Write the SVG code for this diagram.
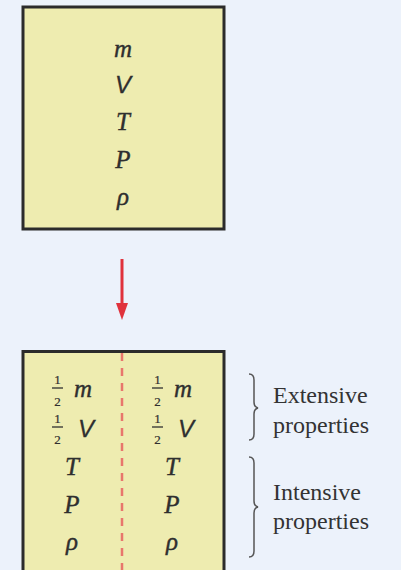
<svg xmlns="http://www.w3.org/2000/svg" width="401" height="570" viewBox="0 0 401 570">
<style>
.box{fill:#EEECB0;stroke:#2b2b2b;stroke-width:3}
.v{font-family:"Liberation Serif",serif;font-style:italic;font-size:25px;fill:#2f2f2f;stroke:#2f2f2f;stroke-width:0.4;text-anchor:middle}
.vs{font-family:"Liberation Sans",sans-serif;font-style:italic;font-size:24px;fill:#2f2f2f;stroke:#2f2f2f;stroke-width:0.3;text-anchor:middle}
.fr{font-family:"Liberation Serif",serif;font-size:13px;fill:#2f2f2f;stroke:#2f2f2f;stroke-width:0.2;text-anchor:middle}
.bar{stroke:#2f2f2f;stroke-width:1.3}
.lbl{font-family:"Liberation Serif",serif;font-size:24px;fill:#333}
.brace{fill:none;stroke:#555;stroke-width:1.5}
</style>
<rect width="401" height="570" fill="#ECF2FB"/>
<g id="before">
<rect class="box" x="23" y="7" width="201" height="222"/>
<text class="v" x="123" y="57">m</text>
<text class="vs" x="123" y="93">V</text>
<text class="v" x="123" y="130">T</text>
<text class="v" x="123" y="168">P</text>
<text class="v" x="123" y="205">ρ</text>
</g>
<g id="connectors">
<line x1="122" y1="259" x2="122" y2="305" stroke="#E0323C" stroke-width="3"/>
<polygon points="116,303 128,303 122,320" fill="#E0323C"/>
</g>
<g id="after">
<rect class="box" x="23" y="351.5" width="201" height="225"/>
<line x1="122" y1="353" x2="122" y2="570" stroke="#E8766C" stroke-width="2.5" stroke-dasharray="8,7"/>
<g id="left-half">
<text class="fr" x="57.5" y="384">1</text><line class="bar" x1="52" y1="388" x2="63" y2="388"/><text class="fr" x="57.5" y="406">2</text>
<text class="v" x="83" y="397">m</text>
<text class="fr" x="57.5" y="423">1</text><line class="bar" x1="52" y1="427" x2="63" y2="427"/><text class="fr" x="57.5" y="444">2</text>
<text class="vs" x="86" y="437">V</text>
<text class="v" x="72" y="475">T</text>
<text class="v" x="72" y="513">P</text>
<text class="v" x="72" y="550">ρ</text>
</g>
<g id="right-half">
<text class="fr" x="157.5" y="384">1</text><line class="bar" x1="152" y1="388" x2="163" y2="388"/><text class="fr" x="157.5" y="406">2</text>
<text class="v" x="183" y="397">m</text>
<text class="fr" x="157.5" y="423">1</text><line class="bar" x1="152" y1="427" x2="163" y2="427"/><text class="fr" x="157.5" y="444">2</text>
<text class="vs" x="186" y="437">V</text>
<text class="v" x="172" y="475">T</text>
<text class="v" x="172" y="513">P</text>
<text class="v" x="172" y="550">ρ</text>
</g>
</g>
<g id="extensive">
<path class="brace" d="M249,374 Q254,374 254,380 L254,402 Q254,407 258,408 Q254,409 254,414 L254,434 Q254,440 249,440"/>
<text class="lbl" x="273" y="403">Extensive</text>
<text class="lbl" x="273" y="433">properties</text>
</g>
<g id="intensive">
<path class="brace" d="M249,457 Q254,457 254,463 L254,501 Q254,506 258,507 Q254,508 254,513 L254,551 Q254,557 249,557"/>
<text class="lbl" x="273" y="500">Intensive</text>
<text class="lbl" x="273" y="529">properties</text>
</g>
</svg>
